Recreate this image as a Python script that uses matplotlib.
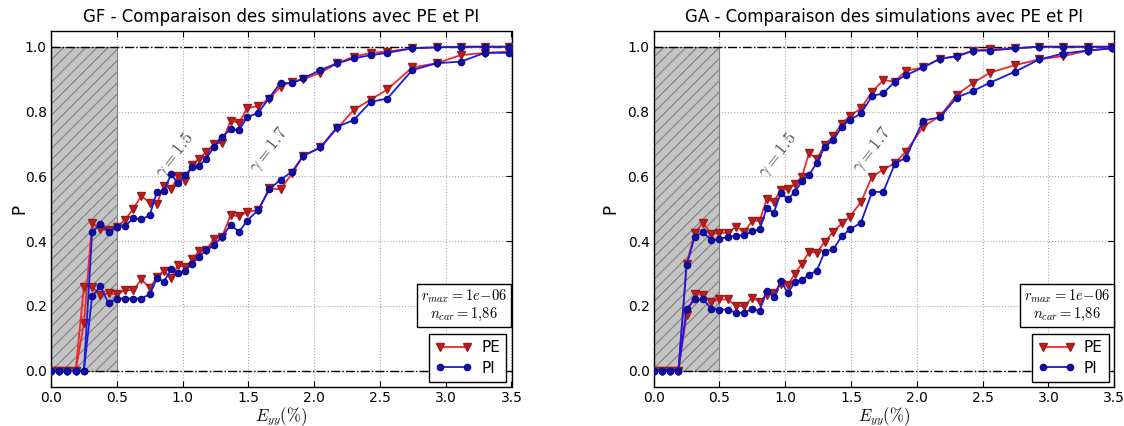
import matplotlib
matplotlib.use("Agg")
import matplotlib.pyplot as plt
from matplotlib.patches import Rectangle

plt.rcParams['mathtext.fontset'] = 'cm'
plt.rcParams['font.family'] = ['DejaVu Sans']
plt.rcParams['hatch.linewidth'] = 0.8

# Shared strain grid (Eyy in %)
x = [0, 0.0625, 0.125, 0.1875, 0.25, 0.3125, 0.375, 0.4375, 0.5, 0.5625, 0.625,
     0.6875, 0.75, 0.805, 0.858, 0.913, 0.966, 1.02, 1.073, 1.127, 1.18, 1.24,
     1.30, 1.365, 1.43, 1.49, 1.575, 1.66, 1.745, 1.832, 1.916, 2.048, 2.176,
     2.302, 2.43, 2.556, 2.746, 2.932, 3.114, 3.298, 3.48]

# GF panel
gf_pe_15 = [0, 0, 0, 0, 0.146, 0.457, 0.437, 0.434, 0.444, 0.465, 0.50, 0.54, 0.518,
            0.516, 0.571, 0.561, 0.60, 0.585, 0.635, 0.655, 0.675, 0.70, 0.704, 0.772,
            0.765, 0.81, 0.817, 0.84, 0.877, 0.892, 0.899, 0.92, 0.949, 0.969, 0.981,
            0.985, 0.995, 0.998, 1.0, 1.0, 1.0]
gf_pi_15 = [0, 0, 0, 0, 0, 0.427, 0.453, 0.427, 0.444, 0.447, 0.47, 0.467, 0.48,
            0.552, 0.555, 0.607, 0.578, 0.604, 0.628, 0.632, 0.655, 0.691, 0.722, 0.745,
            0.743, 0.782, 0.796, 0.843, 0.889, 0.887, 0.902, 0.928, 0.949, 0.964, 0.974,
            0.981, 0.995, 0.998, 1.0, 1.0, 1.0]
gf_pe_17 = [0, 0, 0, 0, 0.259, 0.259, 0.234, 0.239, 0.236, 0.249, 0.249, 0.282, 0.256,
            0.288, 0.309, 0.285, 0.326, 0.319, 0.344, 0.37, 0.372, 0.408, 0.414, 0.48,
            0.477, 0.49, 0.496, 0.563, 0.56, 0.609, 0.663, 0.689, 0.748, 0.805, 0.837,
            0.868, 0.936, 0.949, 0.974, 0.981, 0.985]
gf_pi_17 = [0, 0, 0, 0, 0, 0.231, 0.261, 0.208, 0.223, 0.223, 0.223, 0.223, 0.236,
            0.285, 0.275, 0.313, 0.302, 0.309, 0.331, 0.352, 0.372, 0.388, 0.414, 0.45,
            0.429, 0.463, 0.496, 0.56, 0.59, 0.614, 0.663, 0.689, 0.753, 0.774, 0.83,
            0.84, 0.928, 0.949, 0.954, 0.981, 0.981]

# GA panel
ga_pe_15 = [0, 0, 0, 0, 0.33, 0.426, 0.457, 0.422, 0.426, 0.426, 0.444, 0.429, 0.463,
            0.463, 0.529, 0.522, 0.558, 0.56, 0.576, 0.599, 0.671, 0.655, 0.697, 0.724,
            0.763, 0.786, 0.81, 0.861, 0.897, 0.892, 0.926, 0.936, 0.963, 0.969, 0.988,
            0.992, 0.995, 1.0, 1.0, 1.0, 1.0]
ga_pi_15 = [0, 0, 0, 0, 0.326, 0.414, 0.427, 0.403, 0.406, 0.414, 0.416, 0.419, 0.431,
            0.436, 0.501, 0.488, 0.549, 0.529, 0.552, 0.585, 0.604, 0.642, 0.691, 0.712,
            0.753, 0.774, 0.794, 0.848, 0.856, 0.892, 0.912, 0.936, 0.963, 0.971, 0.988,
            0.988, 0.995, 1.0, 1.0, 1.0, 1.0]
ga_pe_17 = [0, 0, 0, 0, 0.172, 0.237, 0.234, 0.213, 0.22, 0.22, 0.20, 0.20, 0.226,
            0.213, 0.234, 0.239, 0.267, 0.264, 0.30, 0.331, 0.366, 0.365, 0.398, 0.429,
            0.455, 0.475, 0.521, 0.599, 0.621, 0.64, 0.676, 0.753, 0.786, 0.851, 0.889,
            0.92, 0.943, 0.961, 0.971, 0.988, 0.995]
ga_pi_17 = [0, 0, 0, 0, 0.192, 0.22, 0.22, 0.192, 0.189, 0.189, 0.179, 0.179, 0.192,
            0.185, 0.247, 0.228, 0.278, 0.239, 0.275, 0.28, 0.296, 0.309, 0.368, 0.375,
            0.416, 0.436, 0.457, 0.552, 0.552, 0.638, 0.658, 0.772, 0.782, 0.843, 0.864,
            0.889, 0.923, 0.961, 0.979, 0.988, 0.995]

titles = ["GF - Comparaison des simulations avec PE et PI",
          "GA - Comparaison des simulations avec PE et PI"]
xticks = [0.0, 0.5, 1.0, 1.5, 2.0, 2.5, 3.0, 3.5]
yticks = [0.0, 0.2, 0.4, 0.6, 0.8, 1.0]
box_text = "$r_{max}=1e\\!-\\!06$\n$n_{car}=1{,}86$"

panels = [
    (titles[0], gf_pe_15, gf_pi_15, gf_pe_17, gf_pi_17),
    (titles[1], ga_pe_15, ga_pi_15, ga_pe_17, ga_pi_17),
]

fig = plt.figure(figsize=(11.24, 4.26), dpi=100)
lefts = [51 / 1124, 653.7 / 1124]
ylabel_x = [-0.05, -0.075]
for (title, pe15, pi15, pe17, pi17), l, ylx in zip(panels, lefts, ylabel_x):
    ax = fig.add_axes([l, 1 - 387 / 426, 460.5 / 1124, 356.5 / 426])
    ax.add_patch(Rectangle((0, 0), 0.5, 1.0, facecolor='#c4c4c4', edgecolor='#808080',
                           hatch='///', linewidth=0.8, zorder=1))
    ax.axhline(0, color='black', ls='-.', lw=1.0, zorder=2)
    ax.axhline(1, color='black', ls='-.', lw=1.0, zorder=2)
    red_kw = dict(color='#f02828', marker='v', markersize=5.5, markerfacecolor='#b82020',
                  markeredgecolor='#a01818', lw=1.3, zorder=3)
    blue_kw = dict(color='#1a1ae0', marker='o', markersize=4.5, markerfacecolor='#1010a8',
                   markeredgecolor='#0a0a90', lw=1.3, zorder=4)
    ax.plot(x, pe15, label='PE', **red_kw)
    ax.plot(x, pi15, label='PI', **blue_kw)
    ax.plot(x, pe17, **red_kw)
    ax.plot(x, pi17, **blue_kw)
    ax.text(0.94, 0.665, r'$\gamma=1.5$', rotation=52, color='#555555', fontsize=12.5,
            ha='center', va='center')
    ax.text(1.66, 0.68, r'$\gamma=1.7$', rotation=52, color='#555555', fontsize=12.5,
            ha='center', va='center')
    ax.text(3.14, 0.203, box_text, ha='center', va='center', fontsize=10.5,
            linespacing=1.1,
            bbox=dict(boxstyle='square,pad=0.25', fc='white', ec='black', lw=1))
    ax.set_xlim(0, 3.5)
    ax.set_ylim(-0.05, 1.05)
    ax.set_xticks(xticks)
    ax.set_yticks(yticks)
    ax.set_xticklabels([f"{t:.1f}" for t in xticks])
    ax.set_yticklabels([f"{t:.1f}" for t in yticks])
    ax.tick_params(direction='in', top=True, right=True, labelsize=10, length=4, pad=3)
    ax.grid(True, color='#aaaaaa', ls=':', lw=0.8)
    ax.set_axisbelow(True)
    ax.set_title(title, fontsize=12, pad=6)
    ax.set_xlabel(r'$E_{yy}(\%)$', fontsize=12, labelpad=0)
    ax.set_ylabel('P', fontsize=12)
    ax.yaxis.set_label_coords(ylx, 0.5)
    leg = ax.legend(loc='lower right', numpoints=2, fancybox=False, framealpha=1,
                    edgecolor='black', fontsize=11, handlelength=2.4,
                    borderaxespad=0.35, handletextpad=0.6, labelspacing=0.35)
    leg.get_frame().set_linewidth(1.0)
    for s in ax.spines.values():
        s.set_linewidth(1.0)

fig.savefig("out.png", dpi=100)
